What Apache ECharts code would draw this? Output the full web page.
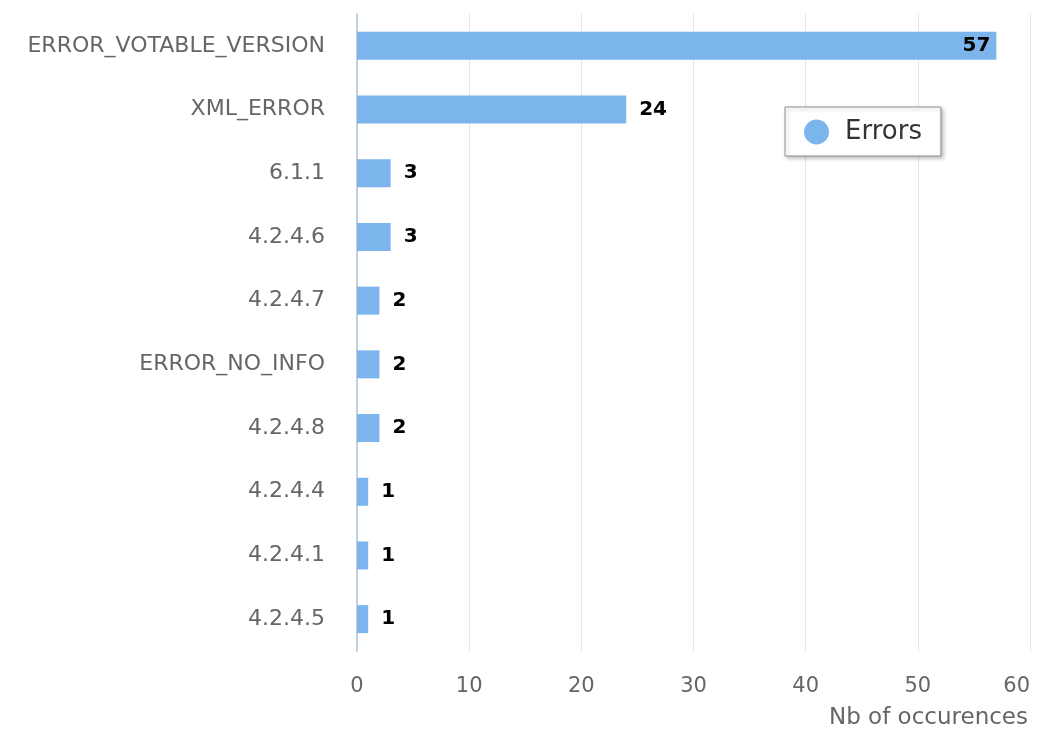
<!DOCTYPE html>
<html>
<head>
<meta charset="utf-8">
<script src="https://cdn.jsdelivr.net/npm/echarts@6/dist/echarts.min.js"></script>
<style>
  html, body { margin: 0; padding: 0; background: #fff; }
  #chart { width: 1045px; height: 737px; }
</style>
</head>
<body>
<div id="chart"></div>
<script>
const categories = ["ERROR_VOTABLE_VERSION", "XML_ERROR", "6.1.1", "4.2.4.6", "4.2.4.7", "ERROR_NO_INFO", "4.2.4.8", "4.2.4.4", "4.2.4.1", "4.2.4.5"];
const errorCounts = [57, 24, 3, 3, 2, 2, 2, 1, 1, 1];
const xTicks = [0, 10, 20, 30, 40, 50, 60];

var chart = echarts.init(document.getElementById("chart"));
var font = "DejaVu Sans";

var option = {
  backgroundColor: "#fff",
  animation: false,
  textStyle: { fontFamily: font },
  legend: {
    data: ["Errors"],
    left: 785,
    top: 107,
    orient: "vertical",
    icon: "circle",
    itemWidth: 25,
    itemHeight: 25,
    itemGap: 0,
    padding: [12, 19, 11, 19],
    backgroundColor: "#fff",
    borderColor: "#909090",
    borderWidth: 1,
    borderRadius: 0,
    shadowColor: "rgba(0,0,0,0.25)",
    shadowBlur: 4,
    shadowOffsetX: 2,
    shadowOffsetY: 2,
    textStyle: { color: "#333", fontSize: 26, fontFamily: font, padding: [0, 0, 0, 11] },
  },
  grid: {
    left: 357,
    right: 15,
    top: 14,
    bottom: 86,
    containLabel: false,
  },
  xAxis: {
    type: "value",
    min: xTicks[0],
    max: xTicks[xTicks.length - 1],
    interval: 10,
    name: "Nb of occurences",
    nameLocation: "end",
    nameGap: 0,
    nameTextStyle: {
      color: "#666",
      fontSize: 23,
      align: "right",
      verticalAlign: "top",
      padding: [56, 2, 0, 0],
    },
    axisLine: { show: false },
    axisTick: { show: false },
    axisLabel: { color: "#666", fontSize: 21, margin: 25, alignMaxLabel: "right" },
    splitLine: { show: true, lineStyle: { color: "#e6e6e6", width: 1 } },
  },
  yAxis: {
    type: "category",
    data: categories,
    inverse: true,
    axisLine: { show: true, lineStyle: { color: "#c0d0e0", width: 2 } },
    axisTick: { show: false },
    axisLabel: { color: "#666", fontSize: 22, margin: 32 },
    splitLine: { show: false },
  },
  series: [
    {
      name: "Errors",
      type: "bar",
      barWidth: 28,
      itemStyle: { color: "#7cb5ec" },
      label: {
        show: true,
        position: "right",
        distance: 13,
        color: "#000",
        fontWeight: "bold",
        fontSize: 20,
      },
      data: errorCounts.map(function (v) {
        return v > 50
          ? { value: v, label: { position: "insideRight", distance: 6 } }
          : v;
      }),
    },
  ],
};
option && chart.setOption(option);
</script>
</body>
</html>
